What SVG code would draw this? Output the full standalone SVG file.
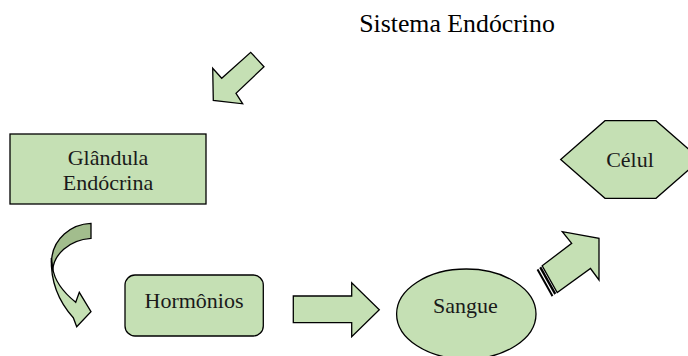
<svg xmlns="http://www.w3.org/2000/svg" width="688" height="356" viewBox="0 0 688 356">
<style>
.shape{fill:#C5E0B4;stroke:#000;stroke-width:1.3;stroke-linejoin:miter}
.dark{fill:#A2BD8D;stroke:#000;stroke-width:1.3}
.lbl{font-family:"Liberation Serif","Times New Roman",serif;font-size:22px;fill:#1a1a1a;text-anchor:middle}
.title{font-family:"Liberation Serif","Times New Roman",serif;font-size:25.8px;fill:#000;text-anchor:middle}
.stripe{fill:#000}
</style>
<rect width="688" height="356" fill="#fff"/>
<text class="title" x="457" y="32.3">Sistema Endócrino</text>

<g id="connectors">
  <polygon id="arrow-top" class="shape" points="213.3,100.5 212.7,68.3 221.7,78.3 250.7,52.3 264,66.7 236,93.3 242.7,103.8"/>
  <g id="arrow-curved">
    <path class="dark" d="M91,223.3 C72,224 52,238 51.5,262 L52.7,270 C54,255 68,240 91,238.3 Z"/>
    <path class="shape" d="M51.3,258 C50.5,284 60,303 73.3,317.7 L76.7,326.7 L91,311.7 L79.3,292.3 L75.7,302.3 C63,292 54.5,281 52.7,268 Z"/>
  </g>
  <polygon id="arrow-right" class="shape" points="293.3,296 351.7,296 351.7,282.7 379.3,309.7 351.7,336.7 351.7,322.7 293.3,322.7"/>
  <g id="arrow-diag">
    <polygon class="stripe" points="536.7,270 538.3,268.8 553.3,295.5 551.7,296.7"/>
    <polygon class="stripe" points="539.3,268 541.2,266.6 556.2,293.3 554.3,294.7"/>
    <polygon class="shape" points="542.2,265.8 571.7,243.3 562.3,231.7 599,238.3 599,280 590.5,268.5 557.2,292.5"/>
  </g>
</g>

<g id="node-glandula">
  <rect class="shape" x="10" y="134" width="196" height="70"/>
  <text class="lbl" x="108" y="164.5">Glândula</text>
  <text class="lbl" x="108" y="190">Endócrina</text>
</g>
<g id="node-hormonios">
  <rect class="shape" x="125" y="275" width="138.3" height="61" rx="10" ry="10"/>
  <text class="lbl" x="194" y="308">Hormônios</text>
</g>
<g id="node-sangue">
  <ellipse class="shape" cx="466.3" cy="314" rx="69.7" ry="45"/>
  <text class="lbl" x="465.5" y="312.7">Sangue</text>
</g>
<g id="node-celul">
  <polygon class="shape" points="560.7,159.5 605,120.7 656,120.7 700.3,159.5 656,198.3 605,198.3"/>
  <text class="lbl" x="630" y="167.3">Célul</text>
</g>
</svg>
